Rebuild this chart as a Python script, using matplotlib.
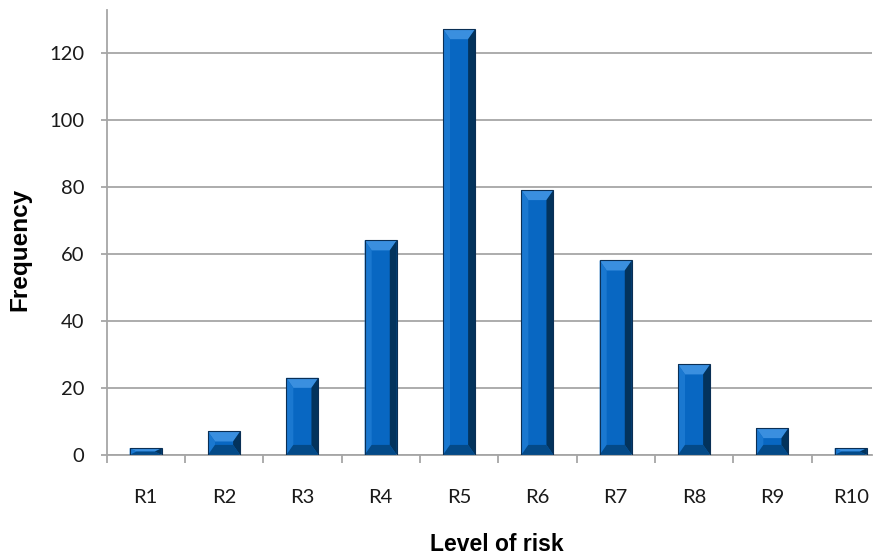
import matplotlib
matplotlib.use("Agg")
import matplotlib.pyplot as plt
from matplotlib.patches import Polygon

categories = ["R1", "R2", "R3", "R4", "R5", "R6", "R7", "R8", "R9", "R10"]
frequency = [2, 7, 23, 64, 127, 79, 58, 27, 8, 2]
y_ticks = [0, 20, 40, 60, 80, 100, 120]

W, H, DPI = 878, 557, 100
fig = plt.figure(figsize=((W + 0.4) / DPI, (H + 0.4) / DPI), dpi=DPI)
fig.patch.set_facecolor("white")

ax_left, ax_right, ax_bottom, ax_top = 106.5, 872, 455, 10
ax = fig.add_axes([ax_left / W, (H - ax_bottom) / H,
                   (ax_right - ax_left) / W, (ax_bottom - ax_top) / H])

px_per_cat = 78.3
x_max = -0.5 + (ax_right - ax_left) / px_per_cat
px_per_unit = 3.35
y_max = (ax_bottom - ax_top) / px_per_unit

grid_col = "#a6a6a6"
ax.set_yticks(y_ticks)
ax.yaxis.grid(True, color=grid_col, linewidth=1.3)
ax.set_axisbelow(True)
for s in ["top", "right"]:
    ax.spines[s].set_visible(False)
for s in ["left", "bottom"]:
    ax.spines[s].set_color(grid_col)
    ax.spines[s].set_linewidth(1.3)

# category boundary ticks (major) and centered labels (minor)
ax.set_xticks([i - 0.5 for i in range(len(categories) + 1)])
ax.set_xticklabels([])
ax.set_xticks(range(len(categories)), minor=True)
ax.set_xticklabels(categories, minor=True)
ax.tick_params(axis="x", which="major", length=6, width=1.3, color=grid_col)
ax.tick_params(axis="x", which="minor", length=0, pad=24, labelsize=14.5,
               labelcolor="#1a1a1a")
ax.tick_params(axis="y", length=4, width=1.3, color=grid_col, pad=12,
               labelsize=14.5, labelcolor="#1a1a1a")
for lab in ax.get_xticklabels(minor=True) + ax.get_yticklabels():
    lab.set_fontfamily("Lato")

# bevelled bars
bar_w = 0.41
bx = 7 / px_per_cat
by = 10 / px_per_unit
face = "#0867c2"
top_c, left_c = "#3a8fdf", "#1a78d0"
right_c, bot_c = "#03335c", "#044a88"
ax.bar(range(len(categories)), frequency, width=bar_w, color=face,
       edgecolor="none", zorder=2)
for i, h in enumerate(frequency):
    x0, x1 = i - bar_w / 2, i + bar_w / 2
    dx = min(bx, bar_w / 2)
    dy = min(by, h / 2)
    ix0, ix1, iy0, iy1 = x0 + dx, x1 - dx, dy, h - dy
    facets = [
        ([(x0, h), (x1, h), (ix1, iy1), (ix0, iy1)], top_c),
        ([(x0, 0), (x0, h), (ix0, iy1), (ix0, iy0)], left_c),
        ([(x1, 0), (x1, h), (ix1, iy1), (ix1, iy0)], right_c),
        ([(x0, 0), (x1, 0), (ix1, iy0), (ix0, iy0)], bot_c),
    ]
    for pts, c in facets:
        ax.add_patch(Polygon(pts, closed=True, facecolor=c, edgecolor="none",
                             zorder=3))
    ax.add_patch(Polygon([(x0, 0), (x0, h), (x1, h), (x1, 0)], closed=True,
                         fill=False, edgecolor="#0a2f55", linewidth=0.8,
                         zorder=4))

# limits last, so the boundary ticks do not widen the view
ax.set_xlim(-0.5, x_max)
ax.set_ylim(0, y_max)

fig.text(20 / W, 1 - 249 / H, "Frequency", rotation=90, ha="center",
         va="center", fontsize=17.5, fontweight="bold",
         fontfamily="Liberation Sans")
fig.text(497 / W, 1 - 544 / H, "Level of risk", ha="center", va="center",
         fontsize=16.5, fontweight="bold", fontfamily="Liberation Sans")

fig.savefig("out.png", dpi=DPI, facecolor="white")
